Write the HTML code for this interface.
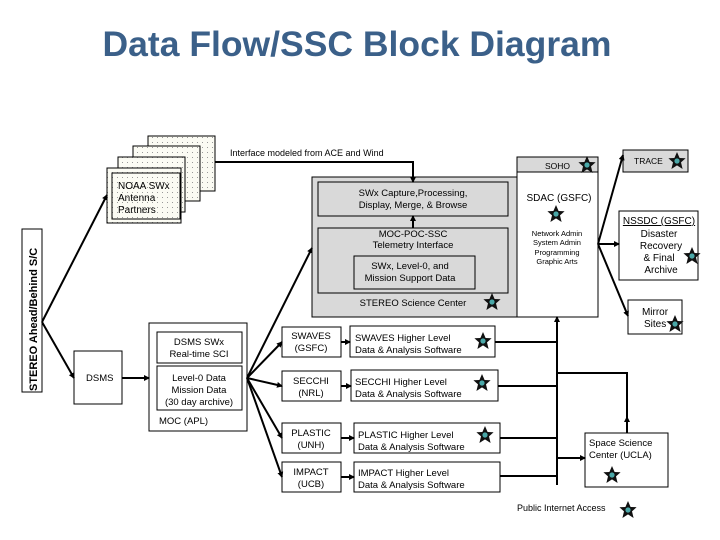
<!DOCTYPE html>
<html><head><meta charset="utf-8"><style>
body{margin:0;background:#fff;}
svg{display:block;font-family:"Liberation Sans",sans-serif;}
</style></head><body>
<svg width="720" height="540" viewBox="0 0 720 540" xmlns="http://www.w3.org/2000/svg">
<defs>
<pattern id="dots" width="5" height="5" patternUnits="userSpaceOnUse"><rect width="5" height="5" fill="#fbfbf3"/><rect x="2" y="2" width="1" height="1" fill="#999"/></pattern>
<marker id="ar" markerWidth="6" markerHeight="6" refX="5" refY="3" orient="auto" markerUnits="userSpaceOnUse"><path d="M0,0 L6,3 L0,6z" fill="#000"/></marker>
<g id="st"><path d="M0,-9 L2.6,-3 L8.6,-2.8 L4,1.4 L5.6,8 L0,4.4 L-5.6,8 L-4,1.4 L-8.6,-2.8 L-2.6,-3z" fill="#111"/><circle r="2.6" fill="#4aa8a8"/></g>
</defs>
<text x="357" y="56" text-anchor="middle" font-size="35.5" font-weight="bold" fill="#3b6089">Data Flow/SSC Block Diagram</text>

<g stroke="#000" stroke-width="1" font-size="10">
<rect x="148" y="136" width="67" height="55" fill="url(#dots)"/>
<rect x="133" y="146" width="67" height="55" fill="url(#dots)"/>
<rect x="118" y="157" width="67" height="55" fill="url(#dots)"/>
<rect x="107" y="168" width="74" height="55" fill="url(#dots)"/>
<rect x="112" y="173" width="68" height="46" fill="url(#dots)"/>
</g>
<g font-size="10" fill="#000">
<text x="118" y="189">NOAA SWx</text><text x="118" y="201">Antenna</text><text x="118" y="213">Partners</text>
<text x="230" y="156" font-size="9">Interface modeled from ACE and Wind</text>
</g>

<rect x="312" y="177" width="205" height="140" fill="#d9d9d9" stroke="#000"/>
<rect x="318" y="182" width="190" height="34" fill="#d9d9d9" stroke="#000"/>
<rect x="318" y="228" width="190" height="65" fill="#d9d9d9" stroke="#000"/>
<rect x="354" y="256" width="121" height="33" fill="#d9d9d9" stroke="#000"/>
<g font-size="9.5" text-anchor="middle">
<text x="413" y="196">SWx Capture,Processing,</text><text x="413" y="208">Display, Merge, &amp; Browse</text>
<text x="413" y="237">MOC-POC-SSC</text><text x="413" y="248">Telemetry Interface</text>
<text x="410" y="269">SWx, Level-0, and</text><text x="410" y="281">Mission Support Data</text>
<text x="413" y="306">STEREO Science Center</text>
</g>
<use href="#st" x="492" y="302"/>

<rect x="517" y="157" width="81" height="160" fill="#fff" stroke="#000"/>
<rect x="517" y="157" width="81" height="15" fill="#d9d9d9" stroke="#000"/>
<text x="545" y="169" font-size="8.5">SOHO</text>
<use href="#st" x="587" y="165"/>
<text x="559" y="201" font-size="10" text-anchor="middle">SDAC (GSFC)</text>
<use href="#st" x="556" y="214"/>
<g font-size="7.5" text-anchor="middle"><text x="557" y="236">Network Admin</text><text x="557" y="245">System Admin</text><text x="557" y="255">Programming</text><text x="557" y="264">Graphic Arts</text></g>

<rect x="623" y="150" width="65" height="22" fill="#d9d9d9" stroke="#000"/>
<text x="634" y="164" font-size="8.5">TRACE</text><use href="#st" x="677" y="161"/>
<rect x="619" y="211" width="79" height="69" fill="#fff" stroke="#000"/>
<g font-size="10" text-anchor="middle"><text x="659" y="224" text-decoration="underline">NSSDC (GSFC)</text><text x="659" y="237">Disaster</text><text x="661" y="249">Recovery</text><text x="659" y="261">&amp; Final</text><text x="661" y="273">Archive</text></g>
<use href="#st" x="692" y="256"/>
<rect x="628" y="300" width="54" height="34" fill="#fff" stroke="#000"/>
<text x="655" y="315" font-size="10" text-anchor="middle">Mirror</text><text x="644" y="327" font-size="10">Sites</text>
<use href="#st" x="675" y="324"/>

<rect x="22" y="229" width="20" height="163" fill="#fff" stroke="#000"/>
<text transform="translate(37,391) rotate(-90)" font-size="11" font-weight="bold">STEREO Ahead/Behind S/C</text>

<g fill="#fff" stroke="#000">
<rect x="74" y="351" width="48" height="53"/>
<rect x="149" y="323" width="98" height="108"/>
<rect x="157" y="332" width="85" height="31"/>
<rect x="157" y="366" width="85" height="44"/>
<rect x="282" y="327" width="59" height="30"/><rect x="350" y="326" width="145" height="31"/>
<rect x="282" y="371" width="59" height="30"/><rect x="351" y="370" width="147" height="31"/>
<rect x="282" y="423" width="59" height="30"/><rect x="354" y="423" width="146" height="30"/>
<rect x="282" y="462" width="59" height="30"/><rect x="354" y="462" width="146" height="30"/>
<rect x="585" y="433" width="83" height="54"/>
</g>
<g font-size="9.5">
<text x="86" y="381">DSMS</text>
<text x="199" y="345" text-anchor="middle">DSMS SWx</text><text x="199" y="357" text-anchor="middle">Real-time SCI</text>
<text x="199" y="381" text-anchor="middle">Level-0 Data</text><text x="199" y="393" text-anchor="middle">Mission Data</text><text x="199" y="405" text-anchor="middle">(30 day archive)</text>
<text x="159" y="424">MOC (APL)</text>
<g text-anchor="middle"><text x="311" y="339">SWAVES</text><text x="311" y="351">(GSFC)</text>
<text x="311" y="384">SECCHI</text><text x="311" y="396">(NRL)</text>
<text x="311" y="436">PLASTIC</text><text x="311" y="448">(UNH)</text>
<text x="311" y="475">IMPACT</text><text x="311" y="487">(UCB)</text></g>
<text x="355" y="341">SWAVES Higher Level</text><text x="355" y="353">Data &amp; Analysis Software</text>
<text x="355" y="385">SECCHI Higher Level</text><text x="355" y="397">Data &amp; Analysis Software</text>
<text x="358" y="438">PLASTIC Higher Level</text><text x="358" y="450">Data &amp; Analysis Software</text>
<text x="358" y="476">IMPACT Higher Level</text><text x="358" y="488">Data &amp; Analysis Software</text>
<text x="589" y="446">Space Science</text><text x="589" y="458">Center (UCLA)</text>
<text x="517" y="511" font-size="9">Public Internet Access</text>
</g>
<use href="#st" x="483" y="341"/><use href="#st" x="482" y="383"/><use href="#st" x="485" y="435"/>
<use href="#st" x="612" y="475"/><use href="#st" x="628" y="510"/>

<g stroke="#000" stroke-width="2" fill="none" marker-end="url(#ar)">
<path d="M42,322 L107,195"/>
<path d="M42,322 L74,378"/>
<path d="M122,378 L149,378"/>
<path d="M247,378 L312,248"/>
<path d="M247,378 L282,342"/>
<path d="M247,378 L282,386"/>
<path d="M247,378 L282,438"/>
<path d="M247,378 L282,477"/>
<path d="M341,342 L350,342"/><path d="M341,386 L351,386"/><path d="M341,438 L354,438"/><path d="M341,477 L354,477"/>
<path d="M215,162 L413,162 L413,182"/>
<path d="M413,228 L413,216"/>
<path d="M557,485 L557,317"/>
<path d="M557,458 L585,458"/>
<path d="M627,433 L627,417"/>
<path d="M598,244 L623,155"/>
<path d="M598,244 L619,244"/>
<path d="M598,244 L628,316"/>
</g>
<g stroke="#000" stroke-width="2" fill="none">
<path d="M495,342 H557"/><path d="M498,386 H557"/><path d="M500,438 H557"/><path d="M500,476 H557"/>
<path d="M557,373 H627 V420"/>
</g>
</svg>
</body></html>
